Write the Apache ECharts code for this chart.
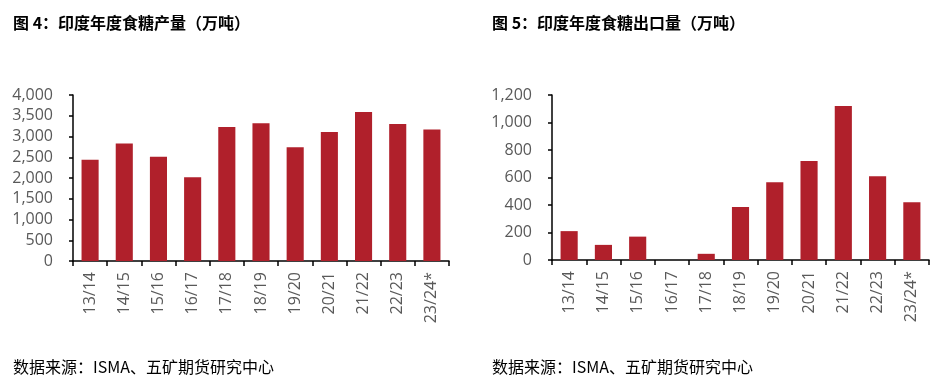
<!DOCTYPE html>
<html>
<head>
<meta charset="utf-8">
<script src="https://cdn.jsdelivr.net/npm/echarts@6/dist/echarts.min.js"></script>
<style>
html,body{margin:0;padding:0;background:#fff;}
#c{width:931px;height:382px;}
</style>
</head>
<body>
<div id="c"></div>
<script>
var categories = ['13/14','14/15','15/16','16/17','17/18','18/19','19/20','20/21','21/22','22/23','23/24*'];
var production = [2440, 2830, 2510, 2020, 3230, 3320, 2740, 3110, 3590, 3300, 3170];
var exports = [210, 110, 170, 0, 45, 385, 565, 720, 1120, 610, 420];
var titles = ['图 4：印度年度食糖产量（万吨）', '图 5：印度年度食糖出口量（万吨）'];
var source = '数据来源：ISMA、五矿期货研究中心';

var barColor = '#B0202B';
var labelColor = '#595959';
var labelFont = '"Open Sans", "Liberation Sans", sans-serif';
var cjk = '"Noto Sans CJK SC", sans-serif';

function fmt(v){ return v.toLocaleString('en-US'); }

function xAxis(gi){
  return {
    type:'category', gridIndex:gi, data:categories,
    axisLine:{show:true, lineStyle:{color:'#000', width:1.5}},
    axisTick:{show:true, inside:false, length:5, alignWithLabel:false, lineStyle:{color:'#000', width:1.5}},
    axisLabel:{rotate:90, margin:11, color:labelColor, fontSize:16, fontFamily:labelFont, interval:0},
    splitLine:{show:false}
  };
}
function yAxis(gi, max, interval){
  return {
    type:'value', gridIndex:gi, min:0, max:max, interval:interval,
    axisLine:{show:true, lineStyle:{color:'#000', width:1.5}},
    axisTick:{show:true, length:4, lineStyle:{color:'#000', width:1.5}},
    axisLabel:{margin:20, color:labelColor, fontSize:16, fontFamily:labelFont, formatter:fmt},
    splitLine:{show:false}
  };
}

var chart = echarts.init(document.getElementById('c'), null, {renderer:'canvas'});
chart.setOption({
  animation:false,
  backgroundColor:'#fff',
  title:[
    {text:titles[0], left:8, top:10, textStyle:{fontFamily:cjk, fontSize:16, fontWeight:'bold', color:'#000'}},
    {text:titles[1], left:487, top:10, textStyle:{fontFamily:cjk, fontSize:16, fontWeight:'bold', color:'#000'}},
    {text:source, left:8, top:354, textStyle:{fontFamily:cjk, fontSize:16, fontWeight:'normal', color:'#000'}},
    {text:source, left:487, top:354, textStyle:{fontFamily:cjk, fontSize:16, fontWeight:'normal', color:'#000'}}
  ],
  grid:[
    {left:73, top:95, width:376, height:166},
    {left:552, top:95, width:377, height:165}
  ],
  xAxis:[xAxis(0), xAxis(1)],
  yAxis:[yAxis(0, 4000, 500), yAxis(1, 1200, 200)],
  series:[
    {type:'bar', xAxisIndex:0, yAxisIndex:0, data:production, barWidth:'50%', itemStyle:{color:barColor}},
    {type:'bar', xAxisIndex:1, yAxisIndex:1, data:exports, barWidth:'50%', itemStyle:{color:barColor}}
  ]
});
</script>
</body>
</html>
